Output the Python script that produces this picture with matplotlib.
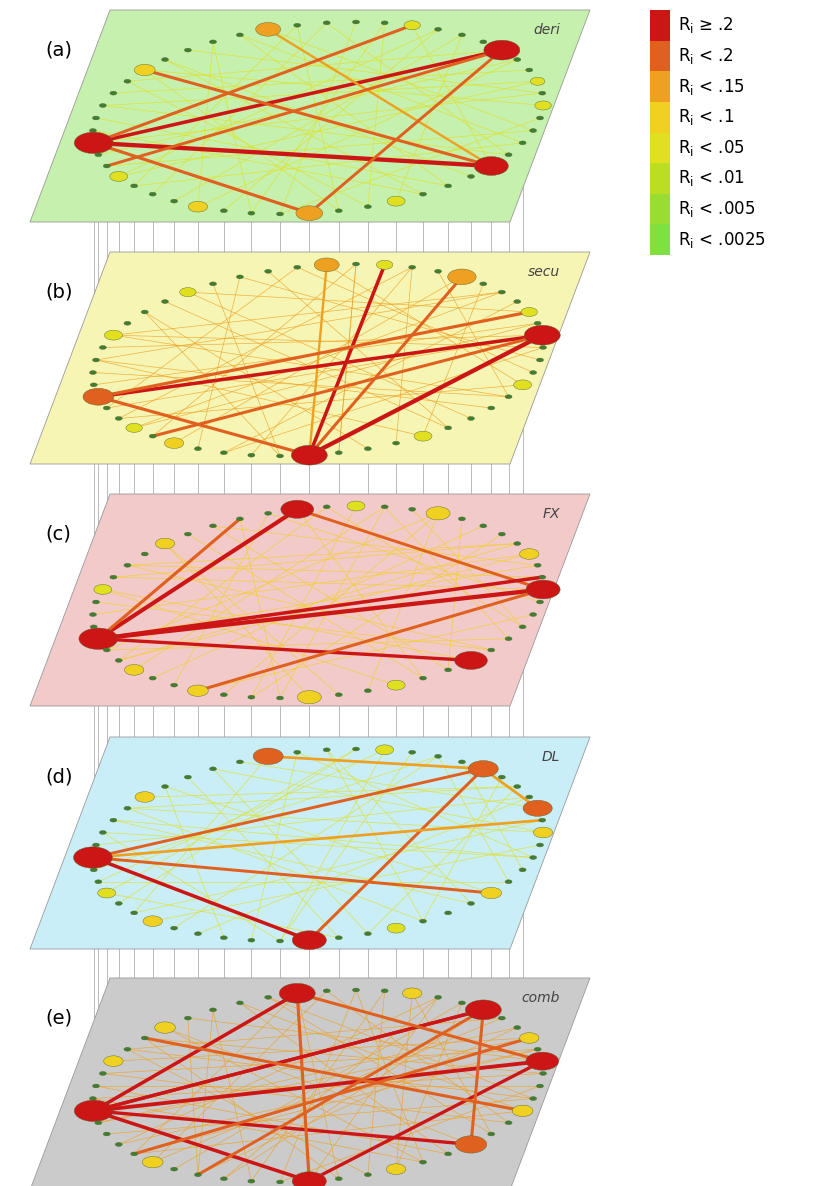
import matplotlib
matplotlib.use("Agg")
import matplotlib.pyplot as plt
import numpy as np
from matplotlib.patches import Polygon, Ellipse
from matplotlib.colors import ListedColormap, BoundaryNorm

N = 48
layer_names = ["deri", "secu", "FX", "DL", "comb"]
layer_tags = ["(a)", "(b)", "(c)", "(d)", "(e)"]
plane_colors = ["#c6f0ad", "#f7f5b4", "#f2caca", "#c9eef7", "#cbcbcb"]
bounds = [0, 0.0025, 0.005, 0.01, 0.05, 0.1, 0.15, 0.2, 1.0]
bin_colors = ["#7fe040", "#99dd33", "#bbdd22", "#e0e020", "#f0d020", "#eea020", "#e06020", "#cc1515"]
cbar_labels = ["R$_\\mathrm{i}$ ≥ .2", "R$_\\mathrm{i}$ < .2", "R$_\\mathrm{i}$ < .15", "R$_\\mathrm{i}$ < .1",
               "R$_\\mathrm{i}$ < .05", "R$_\\mathrm{i}$ < .01", "R$_\\mathrm{i}$ < .005", "R$_\\mathrm{i}$ < .0025"]

node_default = 0.002
node_vals = [
    {26: 0.3, 6: 0.25, 44: 0.22, 37: 0.12, 15: 0.1, 20: 0.06, 33: 0.05, 40: 0.04, 1: 0.03, 10: 0.03, 29: 0.04, 3: 0.02},
    {2: 0.25, 37: 0.25, 27: 0.17, 8: 0.14, 13: 0.1, 11: 0.03, 22: 0.04, 32: 0.05, 41: 0.04, 18: 0.03, 4: 0.03, 46: 0.04, 30: 0.03},
    {27: 0.3, 14: 0.2, 1: 0.22, 43: 0.2, 9: 0.09, 37: 0.09, 19: 0.05, 33: 0.06, 40: 0.04, 4: 0.05, 12: 0.04, 23: 0.04, 30: 0.05},
    {7: 0.16, 15: 0.16, 25: 0.3, 37: 0.22, 3: 0.15, 44: 0.06, 20: 0.05, 31: 0.05, 11: 0.04, 1: 0.05, 40: 0.04, 28: 0.04},
    {26: 0.3, 14: 0.25, 7: 0.25, 2: 0.2, 37: 0.22, 43: 0.18, 19: 0.06, 31: 0.06, 10: 0.05, 46: 0.06, 22: 0.05, 40: 0.05, 4: 0.05},
]
major_edges = [
    [(26, 44, 0.3), (26, 6, 0.22), (26, 37, 0.18), (15, 44, 0.1), (6, 37, 0.16), (26, 10, 0.17), (6, 28, 0.16), (44, 20, 0.17)],
    [(37, 2, 0.3), (37, 8, 0.17), (37, 13, 0.1), (27, 2, 0.22), (27, 37, 0.18), (11, 37, 0.22), (27, 4, 0.18), (2, 31, 0.17)],
    [(27, 1, 0.3), (27, 14, 0.28), (27, 43, 0.2), (14, 1, 0.16), (27, 2, 0.22), (27, 16, 0.18), (1, 33, 0.17)],
    [(25, 7, 0.16), (37, 7, 0.17), (25, 37, 0.22), (15, 7, 0.13), (7, 3, 0.14), (25, 44, 0.16), (25, 2, 0.13)],
    [(26, 2, 0.25), (26, 14, 0.22), (26, 43, 0.2), (14, 37, 0.18), (7, 26, 0.2), (37, 2, 0.2), (7, 43, 0.17),
     (26, 7, 0.2), (14, 2, 0.17), (26, 37, 0.22), (30, 4, 0.17), (20, 46, 0.17), (7, 33, 0.16)],
]
thin_edges = [
    [(1, 20), (3, 29), (5, 33), (8, 40), (10, 44), (12, 36), (14, 30), (16, 46), (18, 2), (20, 38), (22, 4), (24, 42),
     (27, 5), (29, 9), (31, 13), (33, 17), (35, 11), (39, 21), (41, 25), (43, 19), (45, 23), (47, 15), (2, 26), (6, 21),
     (9, 34), (11, 39), (13, 45), (17, 35), (19, 41), (23, 3), (28, 47), (32, 8), (36, 0), (38, 14), (42, 16), (46, 30)],
    [(1, 22), (3, 30), (5, 34), (7, 41), (9, 45), (12, 38), (14, 28), (16, 0), (18, 4), (20, 36), (22, 6), (24, 44),
     (26, 3), (29, 10), (31, 12), (33, 16), (35, 10), (39, 20), (41, 24), (43, 18), (45, 22), (47, 14), (2, 28), (6, 24),
     (8, 32), (10, 40), (13, 46), (17, 36), (19, 42), (23, 2), (25, 45), (30, 6), (34, 1), (38, 12), (42, 15), (46, 29)],
    [(2, 21), (4, 29), (6, 35), (8, 42), (10, 46), (12, 35), (13, 29), (15, 0), (17, 3), (19, 37), (21, 5), (23, 43),
     (25, 4), (28, 9), (30, 11), (32, 15), (34, 9), (38, 19), (40, 23), (42, 17), (44, 21), (46, 13), (3, 27), (5, 22),
     (7, 31), (9, 39), (11, 45), (16, 36), (18, 41), (22, 1), (24, 44), (29, 5), (33, 47), (36, 11), (41, 14), (45, 28)],
    [(1, 21), (2, 30), (4, 33), (6, 41), (8, 46), (10, 36), (12, 29), (14, 47), (16, 3), (18, 38), (20, 5), (22, 43),
     (24, 4), (26, 9), (28, 12), (30, 15), (32, 9), (34, 19), (36, 23), (39, 17), (41, 21), (43, 13), (45, 27), (47, 22),
     (0, 31), (5, 39), (9, 45), (11, 36), (13, 41), (17, 1), (19, 44), (21, 5), (23, 47), (27, 11), (35, 14), (38, 28)],
    [(1, 20), (3, 29), (5, 33), (8, 40), (10, 44), (12, 36), (14, 30), (16, 46), (18, 2), (20, 38), (22, 4), (24, 42),
     (27, 5), (29, 9), (31, 13), (33, 17), (35, 11), (39, 21), (41, 25), (43, 19), (45, 23), (47, 15), (2, 26), (6, 21),
     (9, 34), (11, 39), (13, 45), (17, 35), (19, 41), (23, 3), (28, 47), (32, 8), (36, 0), (38, 14), (42, 16), (46, 30),
     (0, 24), (4, 27), (6, 31), (9, 37), (12, 41), (15, 44), (18, 33), (21, 47), (25, 1), (30, 3), (34, 7), (40, 10)],
]
thin_vals = [0.03, 0.12, 0.09, 0.04, 0.1]

W, H = 837, 1186
fig = plt.figure(figsize=(W / 100, H / 100), dpi=100)
ax = fig.add_axes([0, 0, 1, 1])
ax.set_xlim(0, W); ax.set_ylim(H, 0); ax.axis("off")
cmap = ListedColormap(bin_colors); norm = BoundaryNorm(bounds, cmap.N)

tops = [10, 252, 494, 737, 978]
ph = 212
theta = 2 * np.pi * np.arange(N) / N

def positions(T):
    cx, cy, rx, ry, s = 318, T + 108, 222, 96, 38
    x = cx + rx * np.cos(theta) + s * np.sin(theta)
    y = cy - ry * np.sin(theta)
    return x, y

lower = [k for k in range(N) if np.sin(theta[k]) < -0.15]
x0, y0 = positions(tops[0]); x4, y4 = positions(tops[4])
for k in lower:
    ax.plot([x0[k], x0[k]], [y0[k], y4[k]], color="#888888", lw=0.4, zorder=1)

for L in range(5):
    T = tops[L]
    z = 2 + L * 10
    poly = Polygon([(110, T), (590, T), (510, T + ph), (30, T + ph)], closed=True,
                   facecolor=plane_colors[L], edgecolor="#999999", lw=0.6, zorder=z)
    ax.add_patch(poly)
    x, y = positions(T)
    for i, j in thin_edges[L]:
        ax.plot([x[i], x[j]], [y[i], y[j]], color=cmap(norm(thin_vals[L])), lw=0.5, alpha=0.8, zorder=z + 1)
    for i, j, r in major_edges[L]:
        ax.plot([x[i], x[j]], [y[i], y[j]], color=cmap(norm(r)), lw=1.0 + 7 * r, zorder=z + 2)
    for k in range(N):
        r = node_vals[L].get(k, node_default)
        w = 6 + 60 * np.sqrt(r) if r > node_default else 7
        fc = cmap(norm(r)) if r > node_default else "#3f7f30"
        ax.add_patch(Ellipse((x[k], y[k]), w, w * 0.55, facecolor=fc, edgecolor="#556633", lw=0.3, zorder=z + 3))
    ax.text(45, T + 40, layer_tags[L], fontsize=14, ha="left", va="center", zorder=z + 4)
    ax.text(560, T + 20, layer_names[L], fontsize=10, style="italic", color="#444444", ha="right", va="center", zorder=z + 4)

cb_x, cb_y, cb_w, cb_h = 650, 10, 20, 245
seg = cb_h / 8
for k in range(8):
    ax.add_patch(Polygon([(cb_x, cb_y + k * seg), (cb_x + cb_w, cb_y + k * seg),
                          (cb_x + cb_w, cb_y + (k + 1) * seg), (cb_x, cb_y + (k + 1) * seg)],
                         facecolor=bin_colors[7 - k], edgecolor="none", zorder=60))
    ax.text(cb_x + 28, cb_y + (k + 0.5) * seg, cbar_labels[k], fontsize=12, ha="left", va="center", zorder=60)

fig.savefig("out.png", dpi=100)
